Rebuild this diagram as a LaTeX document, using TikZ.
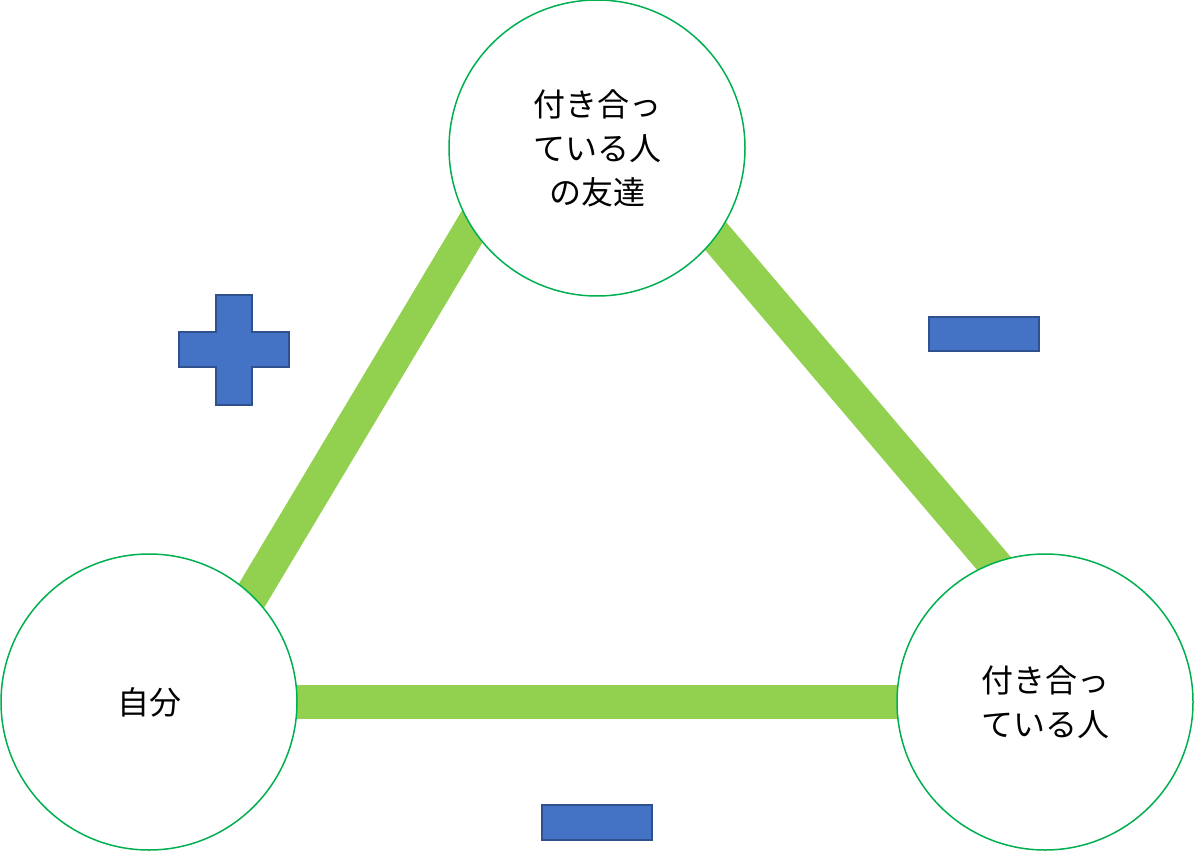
\documentclass[tikz,border=0pt]{standalone}
\usepackage{fontspec}
\newfontfamily\cjk{Noto Sans CJK JP}
\definecolor{lg}{HTML}{92D050}
\definecolor{cg}{HTML}{00B050}
\definecolor{bf}{HTML}{4472C4}
\definecolor{bd}{HTML}{2F528F}
\begin{document}
\begin{tikzpicture}[x=1pt,y=-1pt,
  person/.style={circle,draw=cg,line width=1.5pt,fill=white,minimum size=296pt,inner sep=0pt,align=center,font=\cjk\fontsize{32}{44}\selectfont},
  link/.style={lg,line width=34pt},
  sign/.style={fill=bf,draw=bd,line width=1.5pt}]
\useasboundingbox (0,0) rectangle (1194,851);
\coordinate (ct) at (597,148);
\coordinate (cl) at (149,702);
\coordinate (cr) at (1045,702);
\coordinate (l1) at (219,650);
\coordinate (l2) at (518,150);
\coordinate (r1) at (668,180);
\coordinate (r2) at (1042,620);
\draw[link] (l1) -- (l2);
\draw[link] (r1) -- (r2);
\draw[link] (cl) -- (cr);
\node[person] (top) at (ct) {付き合っ\\ている人\\の友達};
\node[person] (left) at (cl) {自分};
\node[person] (right) at (cr) {付き合っ\\ている人};
\draw[sign] (216,295) -- (252,295) -- (252,332) -- (289,332) -- (289,367) -- (252,367) -- (252,405) -- (216,405) -- (216,367) -- (179,367) -- (179,332) -- (216,332) -- cycle;
\draw[sign] (929,317) rectangle (1039,351);
\draw[sign] (542,805) rectangle (652,840);
\end{tikzpicture}
\end{document}
